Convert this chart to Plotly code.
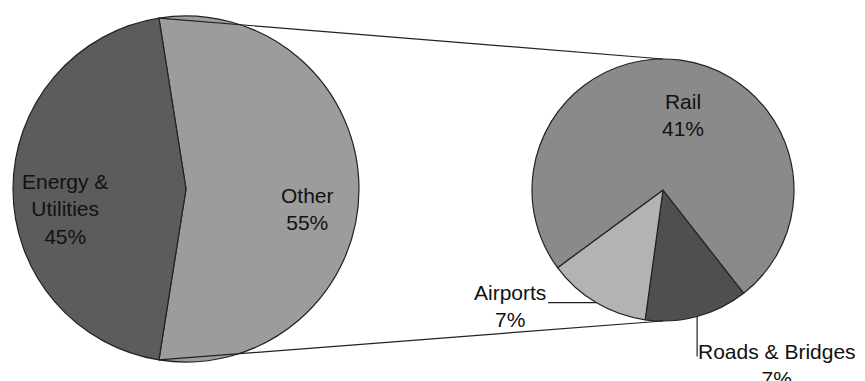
import math
import plotly.graph_objects as go

# ---- data ----
main_labels = ["Other", "Energy & Utilities"]
main_display = ["Other", "Energy &<br>Utilities"]
main_values = [55, 45]

sub_labels = ["Roads & Bridges", "Airports", "Rail"]
sub_display = ["Roads & Bridges", "Airports", "Rail"]
sub_values = [7, 7, 41]

# ---- layout geometry (pixels) ----
W, H = 865, 381
L_CX, L_CY, L_R = 186, 189, 173
R_CX, R_CY, R_R = 663, 190, 131
L_ROT = -9
R_ROT = 142

main_colors = ["#9c9c9c", "#5c5c5c"]
sub_colors = ["#4f4f4f", "#b3b3b3", "#8a8a8a"]
FONT = dict(family="Liberation Sans, Arial, sans-serif", size=21, color="#111111")


def px(x):
    return x / W


def py(y):
    return 1 - y / H


def dom(cx, cy, r):
    return dict(x=[px(cx - r), px(cx + r)], y=[py(cy + r), py(cy - r)])


def pt(cx, cy, r, ang):
    a = math.radians(ang)
    return cx + r * math.sin(a), cy - r * math.cos(a)


def angles(values, rot):
    tot = sum(values)
    out = []
    a = rot
    for v in values:
        span = v / tot * 360
        out.append((a, a + span, a + span / 2))
        a += span
    return out


fig = go.Figure()
fig.add_trace(go.Pie(
    labels=main_labels, values=main_values, sort=False, direction="clockwise",
    rotation=L_ROT, domain=dom(L_CX, L_CY, L_R), textinfo="none", hoverinfo="label+percent",
    marker=dict(colors=main_colors, line=dict(color="#222222", width=1.2)),
))
fig.add_trace(go.Pie(
    labels=sub_labels, values=sub_values, sort=False, direction="clockwise",
    rotation=R_ROT, domain=dom(R_CX, R_CY, R_R), textinfo="none", hoverinfo="label+value",
    marker=dict(colors=sub_colors, line=dict(color="#222222", width=1.2)),
))

total = sum(main_values)
shapes = []
annotations = []

# main pie labels (inside)
for (a0, a1, am), name, v in zip(angles(main_values, L_ROT), main_display, main_values):
    x, y = pt(L_CX, L_CY, L_R * 0.70, am)
    annotations.append(dict(x=px(x), y=py(y + 20), xref="paper", yref="paper",
                            xanchor="center", yanchor="middle",
                            text=f"{name}<br>{round(v / total * 100)}%", showarrow=False,
                            font=FONT, align="center"))

# connector lines between pies
main_ang = angles(main_values, L_ROT)
top_split = pt(L_CX, L_CY, L_R, main_ang[0][0])
bot_split = pt(L_CX, L_CY, L_R, main_ang[0][1])
for (sx, sy), (ex, ey) in [(top_split, (R_CX, R_CY - R_R)), (bot_split, (R_CX, R_CY + R_R))]:
    shapes.append(dict(type="line", xref="paper", yref="paper",
                       x0=px(sx), y0=py(sy), x1=px(ex), y1=py(ey),
                       line=dict(color="#222222", width=1.2)))

# sub pie labels
sub_ang = angles(sub_values, R_ROT)
for (a0, a1, am), name, v in zip(sub_ang, sub_display, sub_values):
    pct = f"{round(v / total * 100)}%"
    if name == "Rail":
        x, y = pt(R_CX, R_CY, R_R * 0.58, am)
        annotations.append(dict(x=px(x + 10), y=py(y), xref="paper", yref="paper",
                                xanchor="center", yanchor="middle",
                                text=f"{name}<br>{pct}", showarrow=False, font=FONT))
    elif name == "Airports":
        hx, hy = pt(R_CX, R_CY, R_R, am)
        ex = hx - 48
        shapes.append(dict(type="line", xref="paper", yref="paper",
                           x0=px(hx), y0=py(hy), x1=px(ex), y1=py(hy),
                           line=dict(color="#222222", width=1.2)))
        annotations.append(dict(x=px(ex), y=py(hy + 3), xref="paper", yref="paper",
                                xanchor="right", yanchor="middle",
                                text=f"{name}<br>{pct}", showarrow=False, font=FONT))
    else:
        hx, hy = pt(R_CX, R_CY, R_R, am)
        ey = hy + 40
        shapes.append(dict(type="line", xref="paper", yref="paper",
                           x0=px(hx), y0=py(hy), x1=px(hx), y1=py(ey),
                           line=dict(color="#222222", width=1.2)))
        annotations.append(dict(x=px(hx - 1), y=py(hy + 22), xref="paper", yref="paper",
                                xanchor="left", yanchor="top",
                                text=f"{name}<br>{pct}", showarrow=False, font=FONT))

fig.update_layout(
    width=W, height=H, margin=dict(l=0, r=0, t=0, b=0),
    paper_bgcolor="white", plot_bgcolor="white", showlegend=False,
    shapes=shapes, annotations=annotations,
)
fig.write_html("out.html")
